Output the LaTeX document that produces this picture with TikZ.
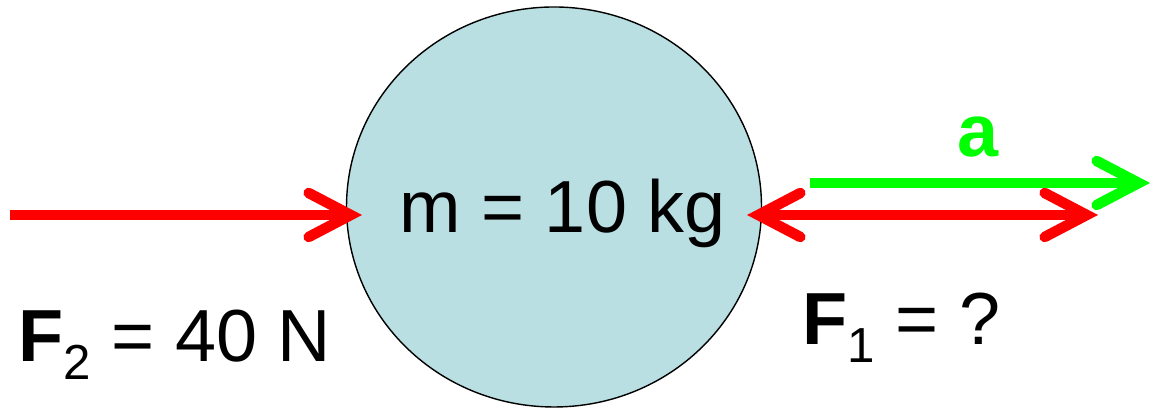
\documentclass[tikz,border=0pt]{standalone}
\usepackage{fontspec}
\setmainfont{Liberation Sans}
\usepackage{xcolor}
\definecolor{bleuboule}{HTML}{B9DFE3}
\definecolor{rougevif}{HTML}{FF0000}
\definecolor{vertvif}{HTML}{00FF00}
\usepackage{tikz}
\usetikzlibrary{positioning,arrows.meta,calc,shapes.geometric}

\begin{document}
\begin{tikzpicture}[
  >={Straight Barb[length=4.2mm,width=4.4mm,line cap=round]},
  force/.style={line width=1.05mm},
  texte/.style={inner sep=0pt,anchor=base west,font=\fontsize{21}{25}\selectfont}
]
\useasboundingbox (0,0) rectangle (11.52,4.08);
\node[ellipse,draw,thin,fill=bleuboule,minimum width=4.15cm,minimum height=4cm,inner sep=0pt] (boule) at (5.54,2.01) {};
\node[texte,anchor=base] (masse) at (5.625,1.75) {m = 10 kg};
\coordinate (g0) at (0.10,1.93);
\coordinate (g1) at (3.62,1.93);
\coordinate (d0) at (7.47,1.93);
\coordinate (d1) at (10.98,1.93);
\coordinate (a0) at (8.10,2.25);
\coordinate (a1) at (11.50,2.25);
\draw[force,rougevif,->] (g0)--(g1);
\draw[force,rougevif,<->] (d0)--(d1);
\draw[force,vertvif,->] (a0)--(a1);
\node[texte,anchor=base,text=vertvif,font=\fontsize{21}{25}\selectfont\bfseries] (acc) at (9.78,2.51) {a};
\node[texte] (f2) at (0.18,0.46) {\textbf{F}\raisebox{-0.18cm}{\fontsize{14}{14}\selectfont 2} = 40 N};
\node[texte] (f1) at (8.02,0.63) {\textbf{F}\raisebox{-0.18cm}{\fontsize{14}{14}\selectfont 1} = ?};
\end{tikzpicture}
\end{document}
